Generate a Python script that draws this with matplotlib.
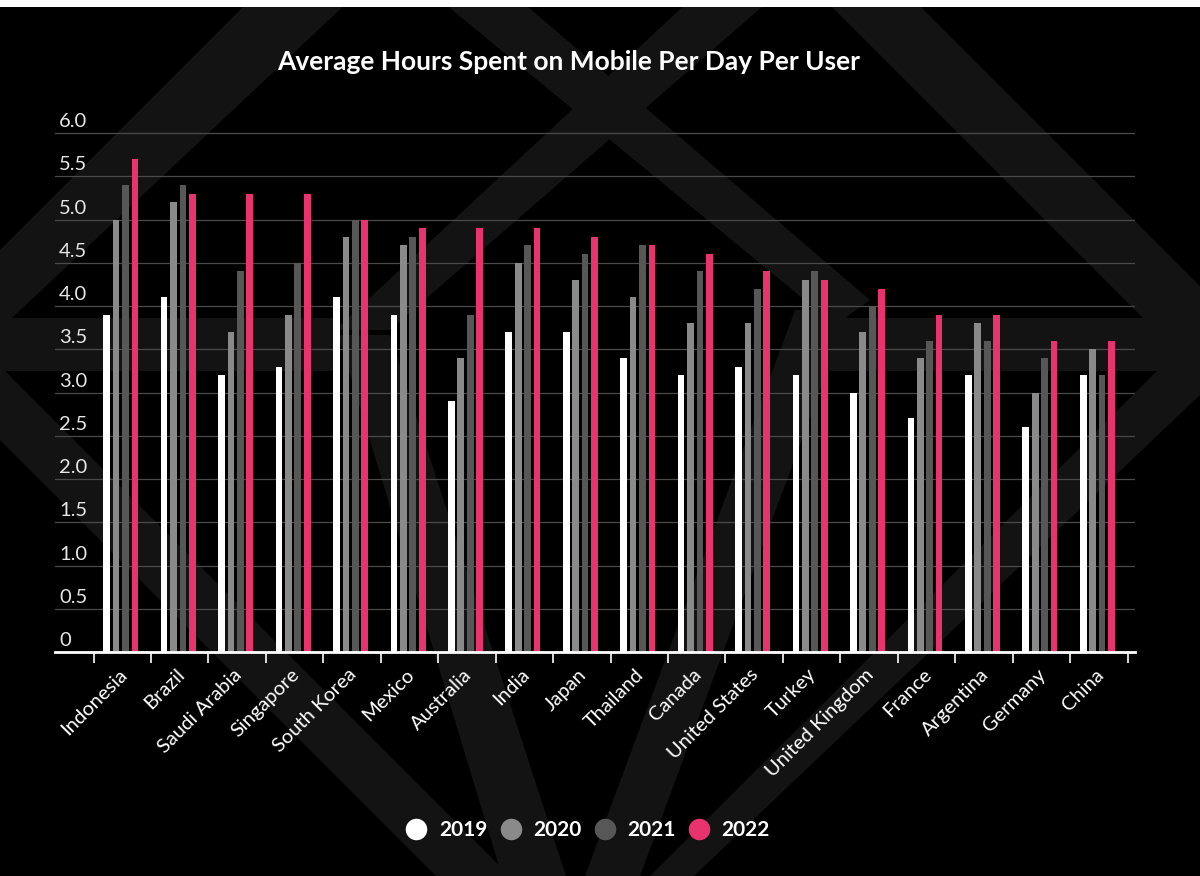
import numpy as np
import matplotlib
matplotlib.use("Agg")
import matplotlib.pyplot as plt
from matplotlib.patches import Polygon, Rectangle
from matplotlib.lines import Line2D

countries = ["Indonesia", "Brazil", "Saudi Arabia", "Singapore", "South Korea",
             "Mexico", "Australia", "India", "Japan", "Thailand", "Canada",
             "United States", "Turkey", "United Kingdom", "France", "Argentina",
             "Germany", "China"]
years = ["2019", "2020", "2021", "2022"]
hours_2019 = [3.9, 4.1, 3.2, 3.3, 4.1, 3.9, 2.9, 3.7, 3.7, 3.4, 3.2, 3.3, 3.2, 3.0, 2.7, 3.2, 2.6, 3.2]
hours_2020 = [5.0, 5.2, 3.7, 3.9, 4.8, 4.7, 3.4, 4.5, 4.3, 4.1, 3.8, 3.8, 4.3, 3.7, 3.4, 3.8, 3.0, 3.5]
hours_2021 = [5.4, 5.4, 4.4, 4.5, 5.0, 4.8, 3.9, 4.7, 4.6, 4.7, 4.4, 4.2, 4.4, 4.0, 3.6, 3.6, 3.4, 3.2]
hours_2022 = [5.7, 5.3, 5.3, 5.3, 5.0, 4.9, 4.9, 4.9, 4.8, 4.7, 4.6, 4.4, 4.3, 4.2, 3.9, 3.9, 3.6, 3.6]
y_ticks = [0, 0.5, 1.0, 1.5, 2.0, 2.5, 3.0, 3.5, 4.0, 4.5, 5.0, 5.5, 6.0]
y_tick_labels = ["0", "0.5", "1.0", "1.5", "2.0", "2.5", "3.0", "3.5", "4.0", "4.5", "5.0", "5.5", "6.0"]

series = [hours_2019, hours_2020, hours_2021, hours_2022]
colors = ["#ffffff", "#8a8a8a", "#575757", "#e8336f"]

W, H = 1200, 876
fig = plt.figure(figsize=(W / 100, H / 100), dpi=100, facecolor="black")


def px(pts):
    # pixel coords (y down) -> figure fraction
    return [(x / W, 1 - y / H) for x, y in pts]


# faint background logo pattern
bands = [
    [(250, 0), (350, 0), (12, 318), (335, 318), (335, 371), (5, 371), (510, 876),
     (436, 876), (0, 440), (0, 250)],
    [(825, 0), (914, 0), (1200, 286), (1200, 395), (694, 876), (650, 876),
     (1157, 371), (829, 371), (829, 318), (1143, 318)],
    [(440, 0), (520, 0), (870, 300), (835, 325)],
    [(690, 0), (770, 0), (390, 330), (335, 330)],
    [(795, 310), (850, 310), (640, 876), (585, 876)],
    [(338, 335), (390, 335), (566, 876), (502, 876)],
]
for b in bands:
    fig.patches.append(Polygon(px(b), closed=True, transform=fig.transFigure,
                               facecolor="#131313", edgecolor="none", zorder=-10))
fig.patches.append(Rectangle((0, 1 - 7 / H), 1, 7 / H, transform=fig.transFigure,
                             facecolor="white", edgecolor="none", zorder=-5))

ax = fig.add_axes([55 / W, 1 - 652 / H, 1080 / W, (652 - 128.7) / H])
ax.set_facecolor("none")

x = np.arange(len(countries))
pitch = 0.164
width = 0.117
for i, (vals, c) in enumerate(zip(series, colors)):
    ax.bar(x + (i - 1.5) * pitch - 0.026, vals, width, color=c, zorder=3)

ax.set_xlim(-1.172, 17.63)
ax.set_ylim(0, 6.05)

ax.set_yticks(y_ticks)
ax.set_yticklabels([])
ax.tick_params(axis="y", length=0)
ax.grid(axis="y", color="#4a4a4a", linewidth=0.9, zorder=1)

ax.set_xticks(np.arange(len(countries) + 1) - 0.5)
ax.set_xticklabels([])
ax.tick_params(axis="x", colors="white", length=8, width=1.2, direction="out")

for s in ["top", "right", "left"]:
    ax.spines[s].set_visible(False)
ax.spines["bottom"].set_color("white")
ax.spines["bottom"].set_linewidth(2)
ax.spines["bottom"].set_zorder(4)

for v, lab in zip(y_ticks, y_tick_labels):
    ax.annotate(lab, xy=(0, v), xycoords=("axes fraction", "data"),
                xytext=(3, 4.3), textcoords="offset points", ha="left",
                va="baseline", color="#e6e6e6", fontsize=14.5, family="Lato")

for k, name in enumerate(countries):
    ax.annotate(name, xy=(k, 0), xycoords=("data", "axes fraction"),
                xytext=(-3, -10), textcoords="offset points", rotation=45,
                rotation_mode="anchor", ha="right", va="top", color="white",
                fontsize=14.5, family="Lato")

fig.text(568.5 / W, 1 - 62 / H, "Average Hours Spent on Mobile Per Day Per User",
         ha="center", va="center", color="white", fontsize=19,
         family="Lato", fontweight="bold")

handles = [Line2D([], [], linestyle="none", marker="o", markersize=15.5,
                  markerfacecolor=c, markeredgecolor="none") for c in colors]
fig.legend(handles, years, loc="center", bbox_to_anchor=(588 / W, 1 - 830 / H),
           ncol=4, frameon=False, handlelength=1.0, handletextpad=0.6,
           columnspacing=0.6, labelcolor="white",
           prop={"family": "Lato", "size": 15, "weight": "bold"})

fig.savefig("out.png", dpi=100, facecolor="black")
